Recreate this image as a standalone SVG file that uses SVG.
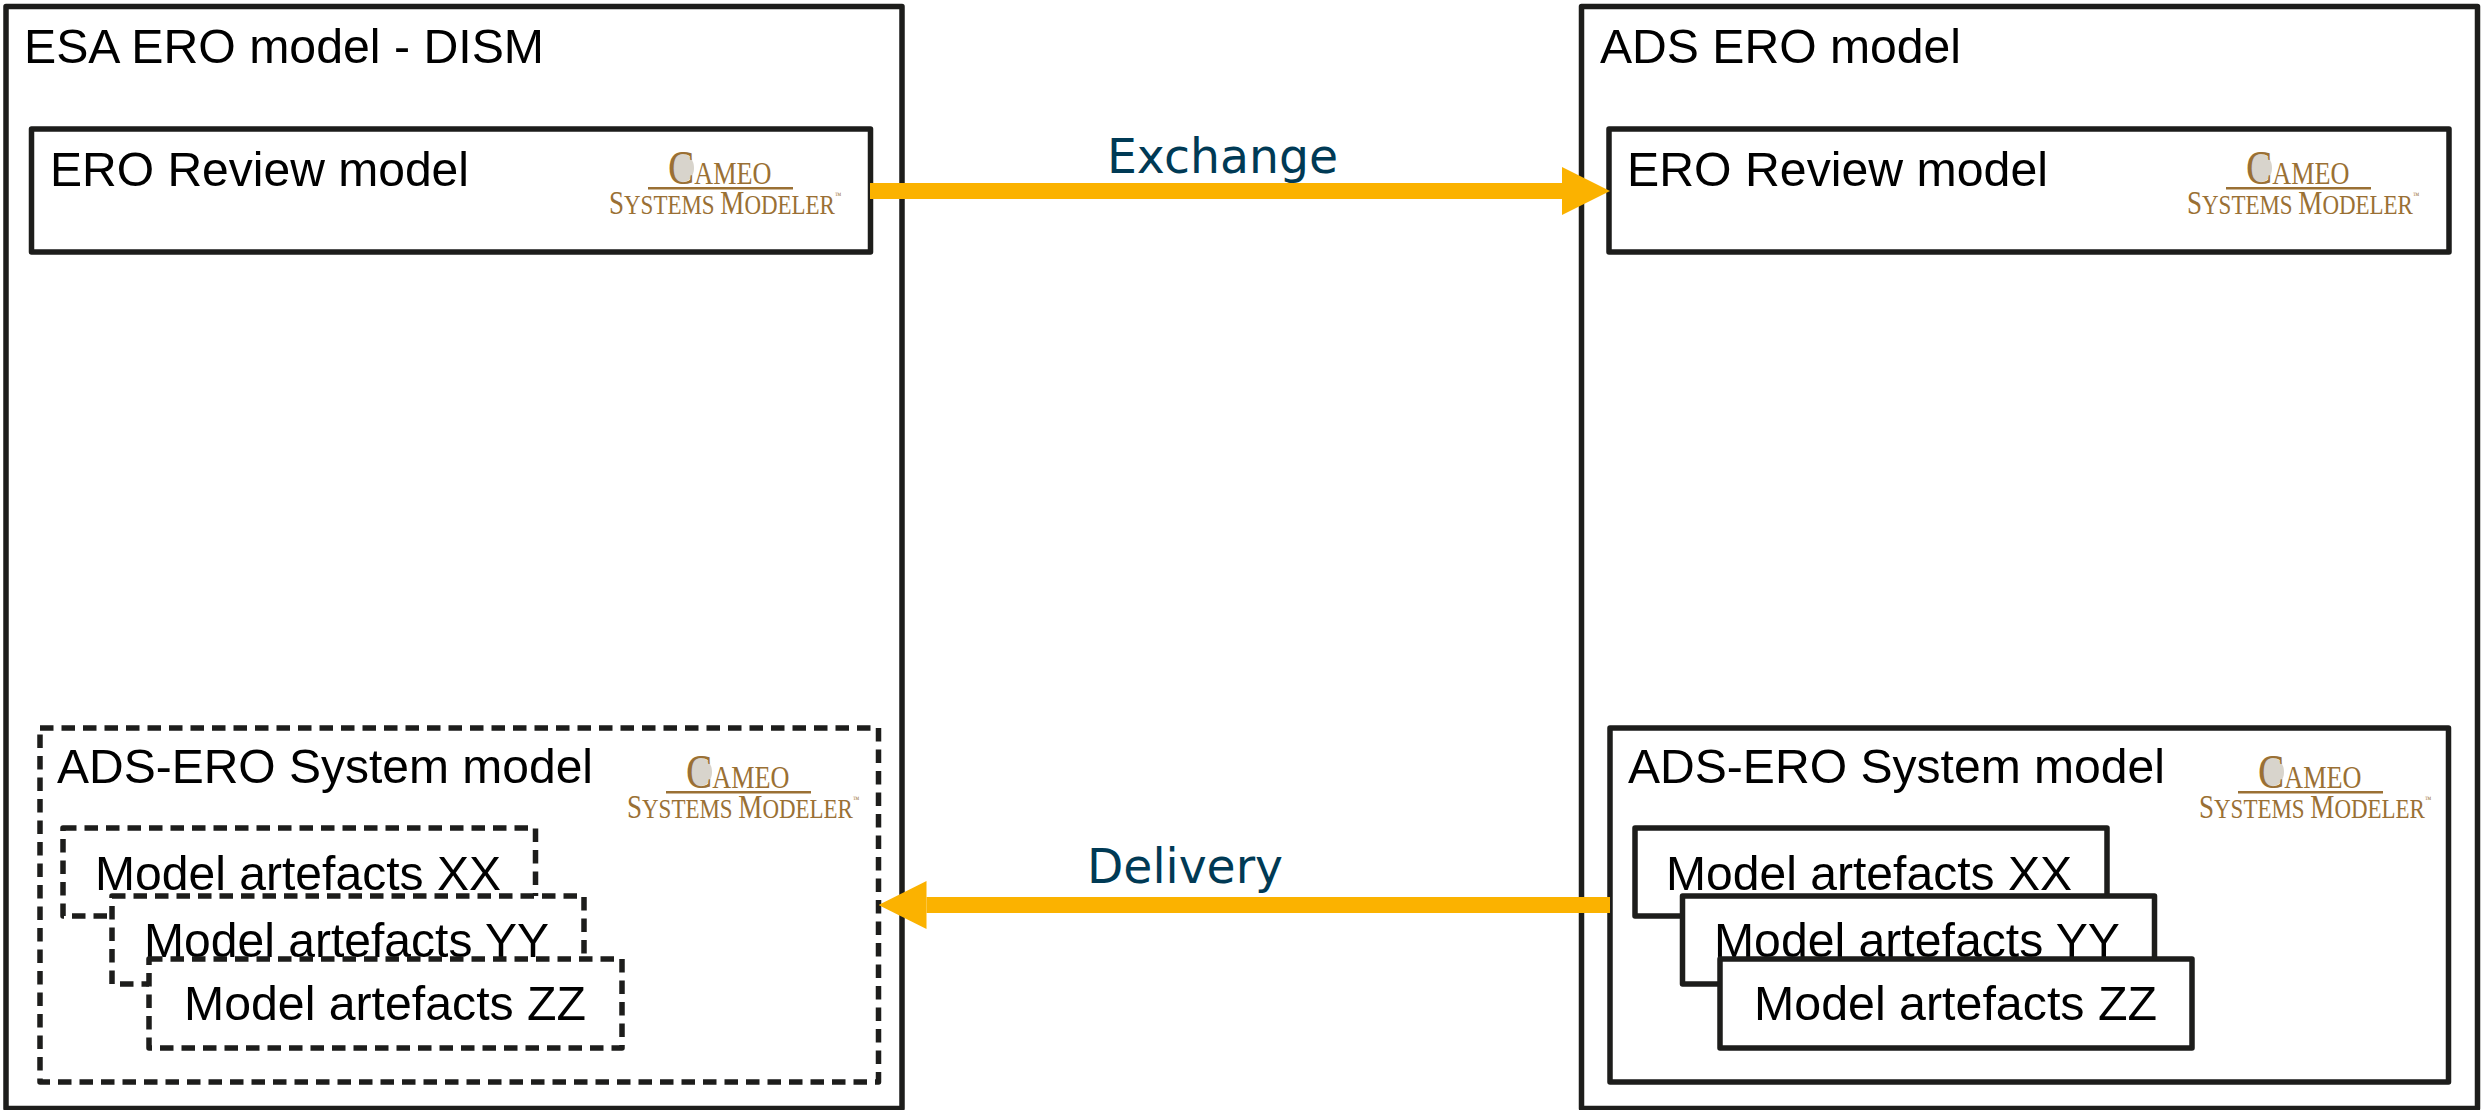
<svg xmlns="http://www.w3.org/2000/svg" width="2482" height="1110" viewBox="0 0 2482 1110">
<style>
.box{fill:#fff;stroke:#1d1d1b;stroke-width:5.500;stroke-linejoin:round}
.dash{stroke-dasharray:13.500 8}
.t{font-family:"Liberation Sans",Arial,sans-serif;font-size:49px;fill:#000}
.lab{font-family:"DejaVu Sans",Verdana,sans-serif;font-size:48px;fill:#003a55}
.lg{font-family:"Liberation Serif","Times New Roman",serif;fill:#9a7034}
.big1{font-size:48px}.sm1{font-size:32px}.big2{font-size:33px}.sm2{font-size:28px}.tm{font-size:8px}
.face{fill:#d8d4cc}.rule{fill:#9a7034}
</style>
<defs>
<marker id="head" markerUnits="userSpaceOnUse" markerWidth="48" markerHeight="48" refX="0" refY="24" orient="auto"><path d="M0 0L48 24L0 48Z" fill="#fbb200"/></marker>
</defs>
<g id="esa-ero-model"><rect class="box" x="6" y="6.500" width="896" height="1102"/><text class="t" x="24" y="63" textLength="520" lengthAdjust="spacingAndGlyphs">ESA ERO model - DISM</text></g>
<g id="ads-ero-model"><rect class="box" x="1581.500" y="6.500" width="896" height="1102"/><text class="t" x="1600" y="63" textLength="361" lengthAdjust="spacingAndGlyphs">ADS ERO model</text></g>
<g id="esa-review"><rect class="box" x="31.500" y="129" width="839" height="123"/><text class="t" x="50" y="186" textLength="419" lengthAdjust="spacingAndGlyphs">ERO Review model</text>
<g><ellipse class="face" cx="683" cy="168" rx="11" ry="14"/><text class="lg" transform="translate(668 184) scale(.82 1)"><tspan class="big1">C</tspan><tspan class="sm1">AMEO</tspan></text><rect class="rule" x="648" y="187" width="145" height="2.500"/><text class="lg" transform="translate(609 214) scale(.82 1)"><tspan class="big2">S</tspan><tspan class="sm2">YSTEMS </tspan><tspan class="big2">M</tspan><tspan class="sm2">ODELER</tspan><tspan class="tm" dy="-16">™</tspan></text></g></g>
<g id="ads-review"><rect class="box" x="1609" y="129" width="840" height="123"/><text class="t" x="1627" y="186" textLength="421" lengthAdjust="spacingAndGlyphs">ERO Review model</text>
<g transform="translate(1578 0)"><ellipse class="face" cx="683" cy="168" rx="11" ry="14"/><text class="lg" transform="translate(668 184) scale(.82 1)"><tspan class="big1">C</tspan><tspan class="sm1">AMEO</tspan></text><rect class="rule" x="648" y="187" width="145" height="2.500"/><text class="lg" transform="translate(609 214) scale(.82 1)"><tspan class="big2">S</tspan><tspan class="sm2">YSTEMS </tspan><tspan class="big2">M</tspan><tspan class="sm2">ODELER</tspan><tspan class="tm" dy="-16">™</tspan></text></g></g>
<g id="esa-system"><rect class="box dash" x="40" y="728" width="838.500" height="354"/><text class="t" x="57" y="783" textLength="536" lengthAdjust="spacingAndGlyphs">ADS-ERO System model</text>
<g transform="translate(18 604)"><ellipse class="face" cx="683" cy="168" rx="11" ry="14"/><text class="lg" transform="translate(668 184) scale(.82 1)"><tspan class="big1">C</tspan><tspan class="sm1">AMEO</tspan></text><rect class="rule" x="648" y="187" width="145" height="2.500"/><text class="lg" transform="translate(609 214) scale(.82 1)"><tspan class="big2">S</tspan><tspan class="sm2">YSTEMS </tspan><tspan class="big2">M</tspan><tspan class="sm2">ODELER</tspan><tspan class="tm" dy="-16">™</tspan></text></g></g>
<g id="esa-xx"><rect class="box dash" x="63" y="828" width="472.500" height="88"/><text class="t" x="95" y="890" textLength="406" lengthAdjust="spacingAndGlyphs">Model artefacts XX</text></g>
<g id="esa-yy"><rect class="box dash" x="112" y="896" width="472" height="88"/><text class="t" x="144" y="957" textLength="405" lengthAdjust="spacingAndGlyphs">Model artefacts YY</text></g>
<g id="esa-zz"><rect class="box dash" x="149" y="959" width="473" height="89"/><text class="t" x="184" y="1020" textLength="402" lengthAdjust="spacingAndGlyphs">Model artefacts ZZ</text></g>
<g id="ads-system"><rect class="box" x="1610" y="728" width="838.500" height="354"/><text class="t" x="1628" y="783" textLength="537" lengthAdjust="spacingAndGlyphs">ADS-ERO System model</text>
<g transform="translate(1590 604)"><ellipse class="face" cx="683" cy="168" rx="11" ry="14"/><text class="lg" transform="translate(668 184) scale(.82 1)"><tspan class="big1">C</tspan><tspan class="sm1">AMEO</tspan></text><rect class="rule" x="648" y="187" width="145" height="2.500"/><text class="lg" transform="translate(609 214) scale(.82 1)"><tspan class="big2">S</tspan><tspan class="sm2">YSTEMS </tspan><tspan class="big2">M</tspan><tspan class="sm2">ODELER</tspan><tspan class="tm" dy="-16">™</tspan></text></g></g>
<g id="ads-xx"><rect class="box" x="1635" y="828" width="472" height="88"/><text class="t" x="1666" y="890" textLength="406" lengthAdjust="spacingAndGlyphs">Model artefacts XX</text></g>
<g id="ads-yy"><rect class="box" x="1682.500" y="896" width="472" height="88"/><text class="t" x="1714" y="957" textLength="406" lengthAdjust="spacingAndGlyphs">Model artefacts YY</text></g>
<g id="ads-zz"><rect class="box" x="1720" y="959" width="472" height="89"/><text class="t" x="1754" y="1020" textLength="403" lengthAdjust="spacingAndGlyphs">Model artefacts ZZ</text></g>
<g id="connectors" fill="none" stroke="#fbb200" stroke-width="16">
<path d="M870 191H1562" marker-end="url(#head)"/>
<path d="M1610 905H926.500" marker-end="url(#head)"/>
</g>
<text class="lab" x="1107" y="173" textLength="231" lengthAdjust="spacingAndGlyphs">Exchange</text>
<text class="lab" x="1087" y="883" textLength="196" lengthAdjust="spacingAndGlyphs">Delivery</text>
</svg>
